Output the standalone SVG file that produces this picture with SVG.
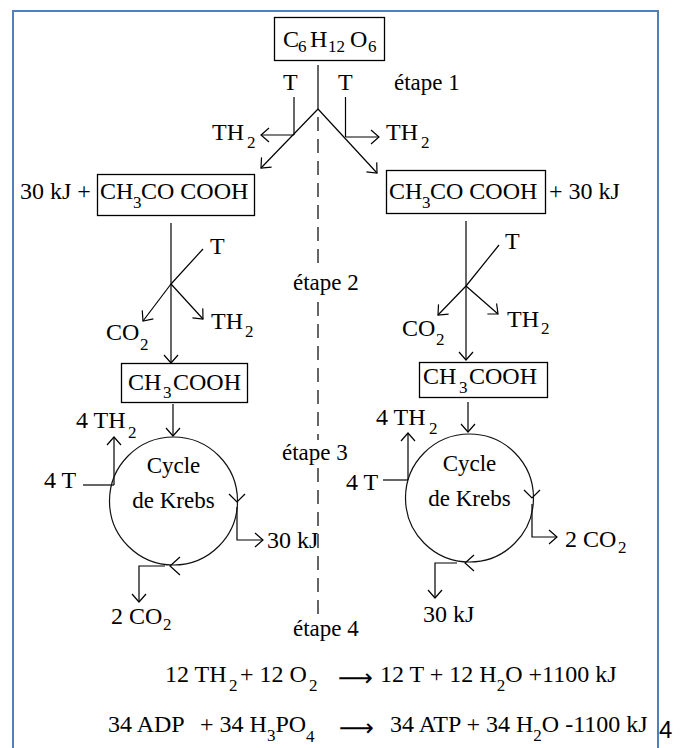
<svg xmlns="http://www.w3.org/2000/svg" width="680" height="748" viewBox="0 0 680 748">
<style>
.t{font-family:"Liberation Serif","Times New Roman",serif;font-size:24px;fill:#000}
.e{font-size:23px}
.s{font-size:17px}
.k{font-size:23px}
.ln{stroke:#000;stroke-width:1.2;fill:none}
.ar{marker-end:url(#ah)}
.box{fill:#fff;stroke:#000;stroke-width:1.3}
.dash{stroke:#000;stroke-width:1.2;stroke-dasharray:14 8;fill:none}
.arrow{font-family:"DejaVu Sans",sans-serif;font-size:24px}
</style>
<defs>
<marker id="ah" markerUnits="userSpaceOnUse" markerWidth="12" markerHeight="16" refX="9" refY="7" orient="auto" overflow="visible">
<path d="M1,0 L9,7 L1,14" fill="none" stroke="#000" stroke-width="1.2"/>
</marker>
</defs>
<rect width="680" height="748" fill="#fff"/>
<path d="M13,748 V11 H658 V748" fill="none" stroke="#4f81bd" stroke-width="2"/>

<g id="connectors">
<path class="ln" d="M318,65 V109"/>
<path class="ln ar" d="M318,109 L261,168"/>
<path class="ln ar" d="M318,109 L377,173"/>
<path class="ln" d="M294,97 V135"/>
<path class="ln ar" d="M294,135 H261"/>
<path class="ln" d="M345.5,97 V137"/>
<path class="ln ar" d="M345.5,137 H379"/>
<path class="dash" d="M318,117 V268 M318,302 V440 M318,468 V614"/>
<path class="ln ar" d="M171,223 V363"/>
<path class="ln" d="M171,284 L203,249"/>
<path class="ln ar" d="M171,284 L143,321"/>
<path class="ln ar" d="M171,284 L203,319"/>
<path class="ln ar" d="M466,221 V360"/>
<path class="ln" d="M466,286 L499,245"/>
<path class="ln ar" d="M466,286 L438,315"/>
<path class="ln ar" d="M466,286 L498,314"/>
<path class="ln ar" d="M173,404 V436"/>
<path class="ln" d="M83,485 H114"/>
<path class="ln ar" d="M114,485 V437"/>
<path class="ln" d="M229,494 L237,502 L245,494"/>
<path class="ln ar" d="M237,507 V540 H263"/>
<path class="ln" d="M180,557 L170,566 L180,575"/>
<path class="ln ar" d="M165,566 H139 V602"/>
<path class="ln ar" d="M468,402 V432"/>
<path class="ln" d="M383,480 H408"/>
<path class="ln ar" d="M408,480 V433"/>
<path class="ln" d="M524,490 L532,498 L540,490"/>
<path class="ln ar" d="M532,504 V537 H557"/>
<path class="ln" d="M474,555 L465,563 L474,571"/>
<path class="ln ar" d="M457,563 H435 V598"/>
</g>

<g id="glucose">
<rect class="box" x="274.5" y="17.5" width="110" height="43"/>
<text class="t" x="283" y="47">C<tspan class="s" x="298" y="52">6</tspan><tspan x="310" y="47">H</tspan><tspan class="s" x="328" y="52">12</tspan><tspan x="350" y="47">O</tspan><tspan class="s" x="368" y="52">6</tspan></text>
</g>
<g id="step1-labels">
<text class="t" x="283" y="90">T</text>
<text class="t" x="338" y="90">T</text>
<text class="t e" x="394" y="90">étape 1</text>
<text class="t" x="212" y="140">TH<tspan class="s" x="247" y="148">2</tspan></text>
<text class="t" x="386" y="140">TH<tspan class="s" x="421" y="148">2</tspan></text>
</g>
<g id="pyruvate-left">
<rect class="box" x="97.5" y="174.5" width="157" height="41"/>
<text class="t" x="100" y="199">CH<tspan class="s" x="133" y="208">3</tspan><tspan x="141" y="199">CO COOH</tspan></text>
<text class="t" x="20" y="199">30 kJ +</text>
</g>
<g id="pyruvate-right">
<rect class="box" x="386.5" y="170.5" width="159" height="43"/>
<text class="t" x="389" y="199">CH<tspan class="s" x="422" y="208">3</tspan><tspan x="430" y="199">CO COOH</tspan></text>
<text class="t" x="549" y="199">+ 30 kJ</text>
</g>
<g id="step2-labels">
<text class="t e" x="293" y="290">étape 2</text>
<text class="t" x="210" y="254">T</text>
<text class="t" x="106" y="340">CO<tspan class="s" x="140" y="350">2</tspan></text>
<text class="t" x="211" y="329">TH<tspan class="s" x="245" y="337">2</tspan></text>
<text class="t" x="505" y="249">T</text>
<text class="t" x="402" y="336">CO<tspan class="s" x="436" y="345">2</tspan></text>
<text class="t" x="507" y="327">TH<tspan class="s" x="541" y="334">2</tspan></text>
</g>
<g id="acetate-left">
<rect class="box" x="121.5" y="363.5" width="126" height="39"/>
<text class="t" x="128" y="390">CH<tspan class="s" x="163" y="398">3</tspan><tspan x="173" y="390">COOH</tspan></text>
</g>
<g id="acetate-right">
<rect class="box" x="419.5" y="362.5" width="128" height="35"/>
<text class="t" x="423" y="384">CH<tspan class="s" x="459" y="393">3</tspan><tspan x="469" y="384">COOH</tspan></text>
</g>
<g id="krebs-left">
<circle cx="173.5" cy="501" r="64" fill="none" stroke="#111" stroke-width="1.2"/>
<text class="t k" x="173.5" y="473" text-anchor="middle">Cycle</text>
<text class="t k" x="173.5" y="508" text-anchor="middle">de Krebs</text>
</g>
<g id="krebs-left-labels">
<text class="t" x="76" y="428">4 TH<tspan class="s" x="128" y="438">2</tspan></text>
<text class="t" x="44" y="488">4 T</text>
<text class="t" x="267" y="548">30 kJ</text>
<text class="t" x="111" y="624">2 CO<tspan class="s" x="163" y="630">2</tspan></text>
</g>
<g id="krebs-right">
<circle cx="469.5" cy="498" r="64" fill="none" stroke="#111" stroke-width="1.2"/>
<text class="t k" x="469.5" y="471" text-anchor="middle">Cycle</text>
<text class="t k" x="469.5" y="506" text-anchor="middle">de Krebs</text>
</g>
<g id="krebs-right-labels">
<text class="t" x="376" y="425">4 TH<tspan class="s" x="429" y="434">2</tspan></text>
<text class="t" x="346" y="490">4 T</text>
<text class="t" x="565" y="547">2 CO<tspan class="s" x="618" y="553">2</tspan></text>
<text class="t" x="423" y="622">30 kJ</text>
</g>
<g id="step3-4-labels">
<text class="t e" x="282" y="460">étape 3</text>
<text class="t e" x="293" y="636">étape 4</text>
</g>
<g id="equation-1">
<text class="t" x="165" y="682">12 TH<tspan class="s" x="229" y="691">2</tspan><tspan x="240" y="682">+ 12 O</tspan><tspan class="s" x="309" y="691">2</tspan></text>
<text class="arrow" x="338" y="686" textLength="35" lengthAdjust="spacingAndGlyphs">⟶</text>
<text class="t" x="380" y="682">12 T + 12 H<tspan class="s" dy="9">2</tspan><tspan dy="-9">O +1100 kJ</tspan></text>
</g>
<g id="equation-2">
<text class="t" x="108" y="732">34 ADP<tspan x="200" y="732">+ 34 H</tspan><tspan class="s" dy="9">3</tspan><tspan dy="-9">PO</tspan><tspan class="s" dy="10">4</tspan></text>
<text class="arrow" x="339" y="736" textLength="35" lengthAdjust="spacingAndGlyphs">⟶</text>
<text class="t" x="390" y="732">34 ATP + 34 H<tspan class="s" dy="9">2</tspan><tspan dy="-9">O -1100 kJ</tspan></text>
</g>
<text x="659" y="738" font-family="'Liberation Sans',Arial,sans-serif" font-size="24" fill="#000">4</text>
</svg>
